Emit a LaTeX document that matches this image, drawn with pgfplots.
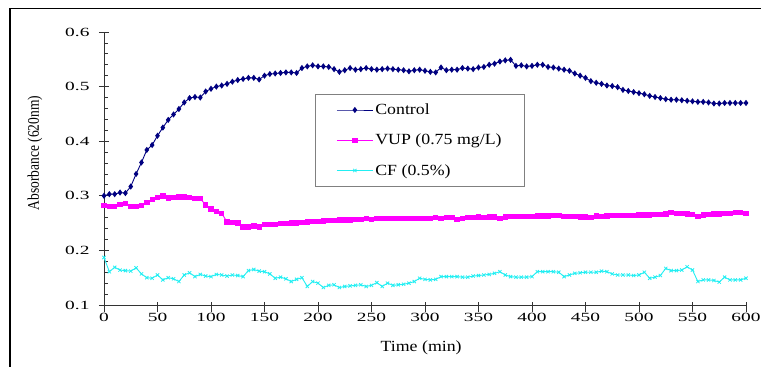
\documentclass[border=0pt]{standalone}
\usepackage{fontspec}
\setmainfont{Liberation Serif}
\newfontfamily\lfont[FakeStretch=1.15]{Liberation Serif}
\newfontfamily\tfont[FakeStretch=1.55]{Liberation Serif}
\usepackage{pgfplots}
\usepackage{pgfplotstable}
\pgfplotsset{compat=1.18}
\definecolor{ctrl}{HTML}{000080}
\definecolor{vup}{HTML}{FF00FF}
\definecolor{cfc}{HTML}{22EEF2}
\pgfplotstableread{
t c v f
0 0.300 0.282 0.187
5 0.303 0.280 0.161
10 0.303 0.281 0.169
15 0.306 0.284 0.164
20 0.305 0.286 0.163
25 0.317 0.280 0.162
30 0.340 0.280 0.168
35 0.361 0.282 0.157
40 0.384 0.288 0.150
45 0.393 0.293 0.149
50 0.410 0.297 0.155
55 0.425 0.300 0.146
60 0.439 0.296 0.150
65 0.449 0.297 0.148
70 0.459 0.298 0.143
75 0.471 0.298 0.155
80 0.479 0.297 0.159
85 0.481 0.295 0.152
90 0.480 0.295 0.156
95 0.491 0.283 0.153
100 0.496 0.276 0.152
105 0.500 0.271 0.156
110 0.502 0.268 0.155
115 0.505 0.252 0.153
120 0.509 0.251 0.155
125 0.512 0.250 0.154
130 0.514 0.243 0.152
135 0.516 0.243 0.163
140 0.516 0.245 0.165
145 0.513 0.243 0.162
150 0.520 0.247 0.161
155 0.523 0.247 0.157
160 0.524 0.248 0.149
165 0.525 0.249 0.151
170 0.526 0.249 0.148
175 0.526 0.250 0.143
180 0.525 0.250 0.147
185 0.534 0.251 0.150
190 0.537 0.252 0.134
195 0.539 0.253 0.143
200 0.537 0.253 0.140
205 0.537 0.254 0.132
210 0.536 0.255 0.136
215 0.532 0.255 0.137
220 0.527 0.256 0.132
225 0.530 0.256 0.134
230 0.534 0.256 0.135
235 0.531 0.257 0.136
240 0.532 0.257 0.137
245 0.534 0.258 0.134
250 0.532 0.257 0.136
255 0.531 0.258 0.141
260 0.532 0.258 0.134
265 0.533 0.259 0.140
270 0.532 0.259 0.136
275 0.531 0.258 0.137
280 0.530 0.259 0.138
285 0.528 0.259 0.140
290 0.530 0.258 0.143
295 0.531 0.259 0.149
300 0.529 0.259 0.147
305 0.527 0.259 0.146
310 0.526 0.260 0.147
315 0.535 0.259 0.152
320 0.530 0.260 0.152
325 0.531 0.260 0.152
330 0.531 0.257 0.152
335 0.534 0.259 0.151
340 0.533 0.260 0.151
345 0.532 0.260 0.153
350 0.535 0.261 0.154
355 0.536 0.260 0.155
360 0.540 0.261 0.156
365 0.542 0.261 0.158
370 0.546 0.259 0.161
375 0.548 0.261 0.155
380 0.549 0.262 0.152
385 0.538 0.262 0.151
390 0.539 0.262 0.151
395 0.537 0.262 0.151
400 0.538 0.262 0.152
405 0.540 0.263 0.161
410 0.540 0.263 0.161
415 0.536 0.263 0.161
420 0.535 0.264 0.161
425 0.533 0.264 0.160
430 0.531 0.262 0.152
435 0.529 0.262 0.155
440 0.524 0.262 0.158
445 0.520 0.261 0.159
450 0.516 0.261 0.160
455 0.510 0.260 0.160
460 0.507 0.263 0.160
465 0.505 0.262 0.162
470 0.502 0.263 0.161
475 0.501 0.264 0.157
480 0.499 0.264 0.155
485 0.494 0.264 0.155
490 0.492 0.264 0.155
495 0.490 0.264 0.154
500 0.488 0.265 0.155
505 0.486 0.265 0.160
510 0.483 0.265 0.149
515 0.481 0.266 0.151
520 0.479 0.266 0.154
525 0.477 0.267 0.167
530 0.476 0.269 0.163
535 0.476 0.268 0.163
540 0.475 0.268 0.164
545 0.474 0.267 0.170
550 0.473 0.266 0.164
555 0.472 0.262 0.143
560 0.472 0.265 0.146
565 0.471 0.266 0.146
570 0.469 0.267 0.145
575 0.469 0.267 0.142
580 0.470 0.268 0.151
585 0.470 0.268 0.146
590 0.470 0.270 0.146
595 0.470 0.269 0.146
600 0.470 0.268 0.149
}\data
\begin{document}
\begin{tikzpicture}[x=1pt,y=1pt]
\useasboundingbox (0,0) rectangle (761,367);
\draw[line width=1.6pt] (10,0) -- (10,358.5) -- (761,358.5);
\begin{axis}[
  at={(104pt,62pt)}, anchor=south west,
  scale only axis, width=642pt, height=273pt,
  xmin=0, xmax=600, ymin=0.1, ymax=0.6,
  clip=false,
  axis lines=left,
  axis line style={-, draw=black!80, line width=0.8pt},
  xtick distance=50, ytick distance=0.1,
  minor y tick num=4,
  tick align=center,
  tick style={draw=black!80, line width=0.8pt},
  major x tick style={yshift=-2.5pt},
  major tick length=10pt,
  minor tick length=4pt,
  minor y tick style={xshift=2pt},
  /pgf/number format/assume math mode=true,
  ticklabel style={font=\tfont\fontsize{12.5}{14}\selectfont},
  yticklabel style={xshift=-6pt, /pgf/number format/.cd, fixed, fixed zerofill, precision=1},
  xticklabel style={/pgf/number format/.cd, fixed, precision=0},
  xlabel={Time (min)},
  xlabel style={at={(axis description cs:0.494,-0.1575)}, anchor=center,
    font=\lfont\fontsize{15.5}{18}\selectfont},
  ylabel={\scalebox{1}[1.2]{Absorbance (620nm)}},
  ylabel style={at={(axis description cs:-0.1075,0.557)}, anchor=center,
    font=\fontsize{13.5}{15}\selectfont},
  legend style={at={(axis description cs:0.3287,0.773)}, anchor=north west,
    draw=black!50, line width=0.8pt, inner xsep=21pt, inner ysep=7.5pt,
    row sep=14pt, font=\lfont\fontsize{15.5}{18}\selectfont,
    cells={anchor=west}, nodes={inner sep=2pt}},
  legend image code/.code={\draw[mark repeat=2,mark phase=2,#1]
    plot coordinates {(0pt,0pt) (18pt,0pt) (36pt,0pt)};},
]
\addplot[ctrl, line width=0.9pt, mark=diamond*, mark size=2.4pt] table[x=t,y=c]{\data};
\addplot[vup, line width=0.9pt, mark=square*, mark size=2.2pt] table[x=t,y=v]{\data};
\addplot[cfc, line width=0.9pt, mark=x, mark size=2.3pt, mark options={line width=0.8pt}] table[x=t,y=f]{\data};
\legend{Control, VUP (0.75 mg/L)\hspace{6pt}, CF (0.5\%)}
\end{axis}
\end{tikzpicture}
\end{document}
